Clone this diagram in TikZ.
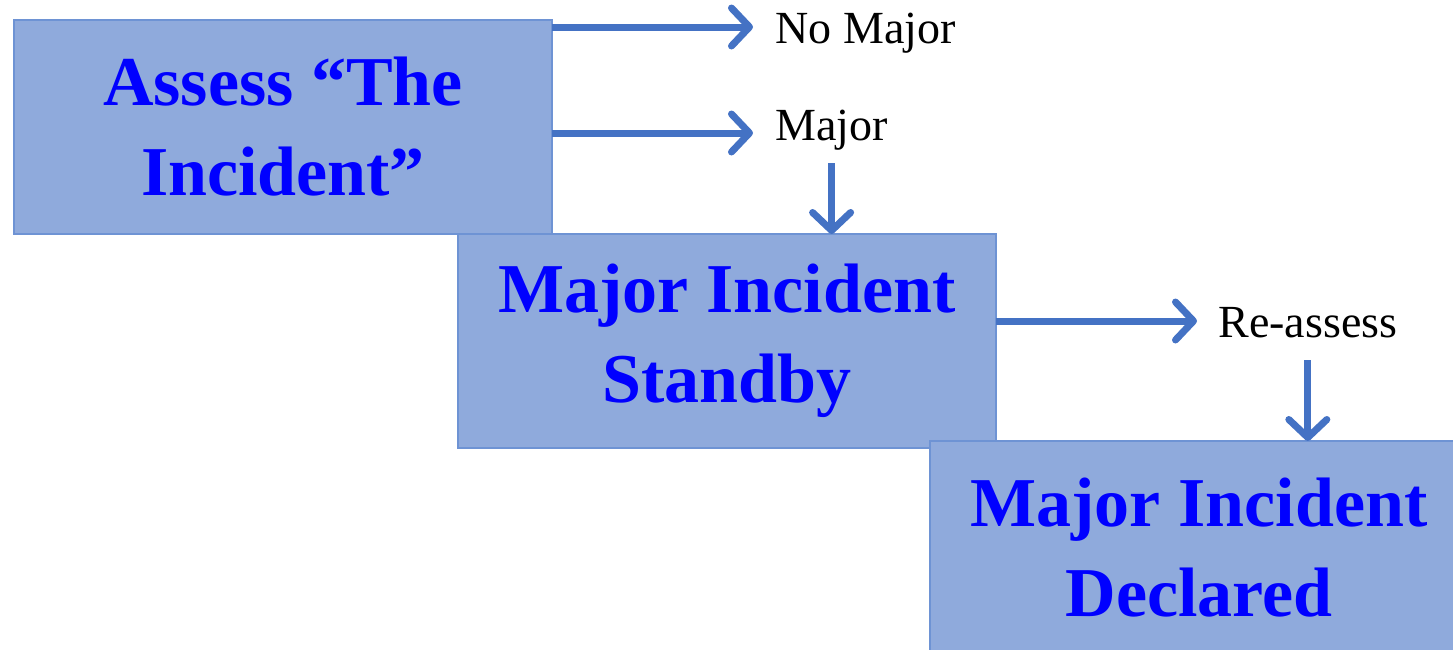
\documentclass[tikz,border=0pt]{standalone}
\usepackage{fontspec}
\setmainfont{Liberation Serif}
\usetikzlibrary{arrows.meta,positioning}
\definecolor{boxfill}{HTML}{8FAADC}
\definecolor{boxline}{HTML}{6E93D4}
\definecolor{boxtext}{HTML}{0000FF}
\definecolor{flowblue}{HTML}{4472C4}

\begin{document}
\begin{tikzpicture}[
        x=0.5pt, y=-0.5pt,
        stage/.style={draw=boxline, line width=1pt, fill=boxfill, text=boxtext, align=center,
            font=\fontsize{35}{45}\selectfont\bfseries, minimum width=269pt, minimum height=107pt,
            inner sep=0pt, outer sep=0pt},
        outcome/.style={font=\fontsize{23}{27}\selectfont, inner sep=0pt, text height=15pt, text depth=0pt},
        flow/.style={draw=flowblue, line width=3.5pt, -{Straight Barb[length=9pt, width=19pt, round]}}
    ]
  \useasboundingbox (0,0) rectangle (1453,649);
  \clip (0,0) rectangle (1453,649);

  % Nodes
  \node (assess) [stage, anchor=north west] at (14,20) {Assess “The\\Incident”};
  \node (standby) [stage, below right=0pt and -47pt of assess] {Major Incident\\Standby};
  \node (declared) [stage, below right=-3.5pt and -33pt of standby] {Major Incident\\Declared};

  \node (nomajor) [outcome, anchor=west] at (775,28) {No Major};
  \node (major) [outcome, anchor=west] at (775,125) {Major};
  \node (reassess) [outcome, anchor=west] at (1218,322) {Re-assess};

  \draw[flow, shorten >=11pt] ([yshift=0.5pt]nomajor.west -| assess.east) -- ([yshift=0.5pt]nomajor.west);
  \draw[flow, shorten >=11pt] ([yshift=-4pt]major.west -| assess.east) -- ([yshift=-4pt]major.west);
  \draw[flow, shorten <=11.5pt] (major.south) -- (major.south |- standby.north);
  \draw[flow, shorten >=10.5pt] ([yshift=0.5pt]reassess.west -| standby.east) -- ([yshift=0.5pt]reassess.west);
  \draw[flow, shorten <=11.5pt] (reassess.south) -- (reassess.south |- declared.north);
\end{tikzpicture}
\end{document}
